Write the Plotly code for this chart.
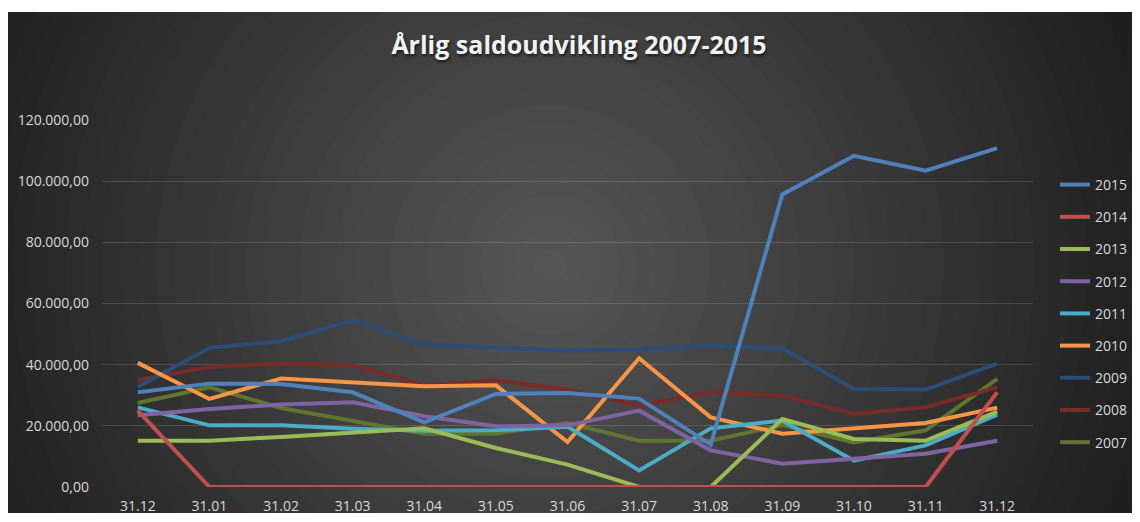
import plotly.graph_objects as go

categories = ["31.12", "31.01", "31.02", "31.03", "31.04", "31.05", "31.06",
              "31.07", "31.08", "31.09", "31.10", "31.11", "31.12"]

years = ["2015", "2014", "2013", "2012", "2011", "2010", "2009", "2008", "2007"]

y2015 = [30960, 33800, 33700, 30960, 21140, 30440, 30770, 28900, 13850, 95650, 108300, 103400, 110800]
y2014 = [25000, 0, 0, 0, 0, 0, 0, 0, 0, 0, 0, 0, 30960]
y2013 = [15150, 15150, 16360, 17670, 19180, 12760, 7300, 0, 0, 22250, 15710, 15150, 24640]
y2012 = [23440, 25530, 26940, 27690, 23110, 19840, 20160, 24970, 11980, 7630, 9260, 10900, 15150]
y2011 = [26050, 20160, 20160, 19080, 18430, 18530, 19740, 5430, 19180, 21700, 8610, 13620, 23660]
y2010 = [40580, 28800, 35450, 34240, 32930, 33250, 14730, 42100, 22780, 17440, 19080, 20950, 25950]
y2009 = [32730, 45500, 47650, 54500, 46570, 45500, 44600, 44900, 46300, 45260, 32070, 31850, 40350]
y2008 = [34900, 39270, 40350, 39930, 33150, 34890, 31850, 26600, 30960, 29880, 23890, 26050, 32600]
y2007 = [27490, 32600, 25850, 21700, 17440, 17440, 20950, 15150, 15150, 20290, 14600, 18530, 35340]

series = {
    "2015": y2015, "2014": y2014, "2013": y2013, "2012": y2012, "2011": y2011,
    "2010": y2010, "2009": y2009, "2008": y2008, "2007": y2007,
}
colors = {
    "2015": "#4F81BD", "2014": "#C0504D", "2013": "#9BBB59", "2012": "#8064A2",
    "2011": "#4BACC6", "2010": "#F79646", "2009": "#2C4D75", "2008": "#772C2A",
    "2007": "#5F7530",
}

y_ticks = [0, 20000, 40000, 60000, 80000, 100000, 120000]

# page body has an 8px margin; figure coordinates are screen - 8
W, H = 1132, 514
L, R, T, B = 94, 107, 112, 35
PW, PH = W - L - R, H - T - B


def px_x(p):
    return (p - L) / PW


def px_y(p):
    return 1 - (p - T) / PH


fig = go.Figure()
xs = list(range(len(categories)))
for yr in reversed(years):
    fig.add_trace(go.Scatter(
        x=xs, y=series[yr], mode="lines", name=yr,
        line=dict(color=colors[yr], width=4),
        legendgroup=yr, legendrank=years.index(yr) + 1,
        hoverinfo="skip",
    ))

# radial gradient background (concentric rings)
shapes = []
cx, cy = px_x(542), px_y(257)
r = 700
while r > 0:
    t = min(r / 640.0, 1.0)
    lv = int(round(87 - (87 - 30) * t))
    col = f"rgb({lv},{lv},{lv})"
    shapes.append(dict(type="circle", xref="paper", yref="paper",
                       xsizemode="pixel", ysizemode="pixel",
                       xanchor=cx, yanchor=cy, x0=-r, x1=r, y0=-r, y1=r,
                       fillcolor=col, line=dict(width=0), layer="below"))
    r -= 18
# white border strips (top and bottom)
for (y0, y1) in [(0, 4), (505, H)]:
    shapes.append(dict(type="rect", xref="paper", yref="paper",
                       x0=px_x(0), x1=px_x(W), y0=px_y(y1), y1=px_y(y0),
                       fillcolor="white", line=dict(width=0), layer="below"))

fig.update_layout(
    width=W, height=H,
    margin=dict(l=L, r=R, t=T, b=B, autoexpand=False),
    paper_bgcolor="white",
    plot_bgcolor="rgba(0,0,0,0)",
    separators=",.",
    shapes=shapes,
    title=dict(text="Årlig saldoudvikling 2007-2015", x=571 / W,
               xanchor="center", y=1 - 37 / H, yanchor="middle",
               font=dict(family="Open Sans", size=25, color="#F2F2F2",
                         weight="bold", shadow="1px 2px 3px rgba(0,0,0,0.6)")),
    xaxis=dict(range=[-0.5, len(categories) - 0.5], tickmode="array",
               tickvals=xs, ticktext=categories, showgrid=False,
               zeroline=False, showline=False, ticks="outside", ticklen=6,
               tickcolor="rgba(0,0,0,0)",
               tickfont=dict(family="Open Sans", size=14, color="#D9D9D9")),
    yaxis=dict(range=[0, 120000], tickmode="array", tickvals=y_ticks,
               tickformat=",.2f", showgrid=True,
               gridcolor="rgba(255,255,255,0.14)", gridwidth=1,
               zeroline=False, showline=False, ticks="",
               ticklabelstandoff=12,
               tickfont=dict(family="Open Sans", size=14, color="#D9D9D9")),
    legend=dict(x=px_x(1047), xanchor="left", y=px_y(161), yanchor="top",
                bgcolor="rgba(0,0,0,0)", tracegroupgap=11,
                font=dict(family="Open Sans", size=14, color="#D9D9D9"),
                traceorder="grouped"),
    showlegend=True,
)

fig.write_html("out.html")
